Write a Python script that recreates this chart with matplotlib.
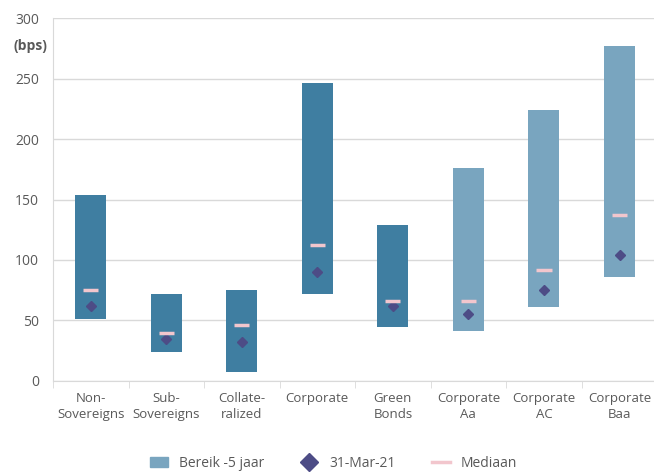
import numpy as np
import matplotlib.pyplot as plt
from matplotlib.lines import Line2D
from matplotlib.patches import Patch

categories = ["Non-\nSovereigns", "Sub-\nSovereigns", "Collate-\nralized", "Corporate",
              "Green\nBonds", "Corporate\nAa", "Corporate\nAC", "Corporate\nBaa"]
range_low = [51, 24, 7, 72, 45, 41, 61, 86]
range_high = [154, 72, 75, 246, 129, 176, 224, 277]
current = [62, 35, 32, 90, 62, 55, 75, 104]
median = [75, 40, 46, 112, 66, 66, 92, 137]

dark = "#3F7EA1"
light = "#79A5BF"
bar_colors = [dark] * 5 + [light] * 3
grey_text = "#595959"

plt.rcParams['font.family'] = ['Open Sans', 'DejaVu Sans']

fig = plt.figure(figsize=(6.54, 4.75), dpi=100)
ax = fig.add_axes([0.081, 0.198, 0.924, 0.764])

x = np.arange(len(categories))
heights = np.array(range_high) - np.array(range_low)
ax.bar(x, heights, bottom=range_low, width=0.41, color=bar_colors, zorder=2)
ax.plot(x, current, linestyle="none", marker="D", markersize=5.5,
        color="#4D4C86", zorder=3)
ax.hlines(median, x - 0.1, x + 0.1, colors="#F2C6CD", linewidth=2.5, zorder=4)

ax.set_xlim(-0.5, len(categories) - 0.5)
ax.set_ylim(0, 300)
ax.set_yticks(np.arange(0, 301, 50))
ax.yaxis.grid(True, color="#D9D9D9", linewidth=1)
ax.set_axisbelow(True)

ax.set_xticks(x)
ax.set_xticklabels(categories, fontsize=9.5, color=grey_text, linespacing=1.25)
ax.set_xticks(np.arange(-0.5, len(categories), 1), minor=True)
ax.tick_params(axis="x", which="major", length=0, pad=8)
ax.tick_params(axis="x", which="minor", length=5, color="#D9D9D9")
ax.tick_params(axis="y", length=0, pad=10, labelsize=10, labelcolor=grey_text)

for s in ["top", "right"]:
    ax.spines[s].set_visible(False)
ax.spines["left"].set_color("#D9D9D9")
ax.spines["bottom"].set_color("#D9D9D9")

fig.text(0.046, 0.903, "(bps)", fontsize=10, fontweight="bold", color=grey_text,
         ha="center", va="center")

handles = [
    Patch(color=light, label="Bereik -5 jaar"),
    Line2D([], [], linestyle="none", marker="D", markersize=9, color="#4D4C86",
           label="31-Mar-21"),
    Line2D([], [], color="#F2C6CD", linewidth=2.5, label="Mediaan"),
]
fig.legend(handles=handles, loc="center", bbox_to_anchor=(0.51, 0.025), ncol=3,
           frameon=False, fontsize=10, labelcolor=grey_text, columnspacing=2.6,
           handlelength=1.3)

fig.savefig("out.png", dpi=100)
